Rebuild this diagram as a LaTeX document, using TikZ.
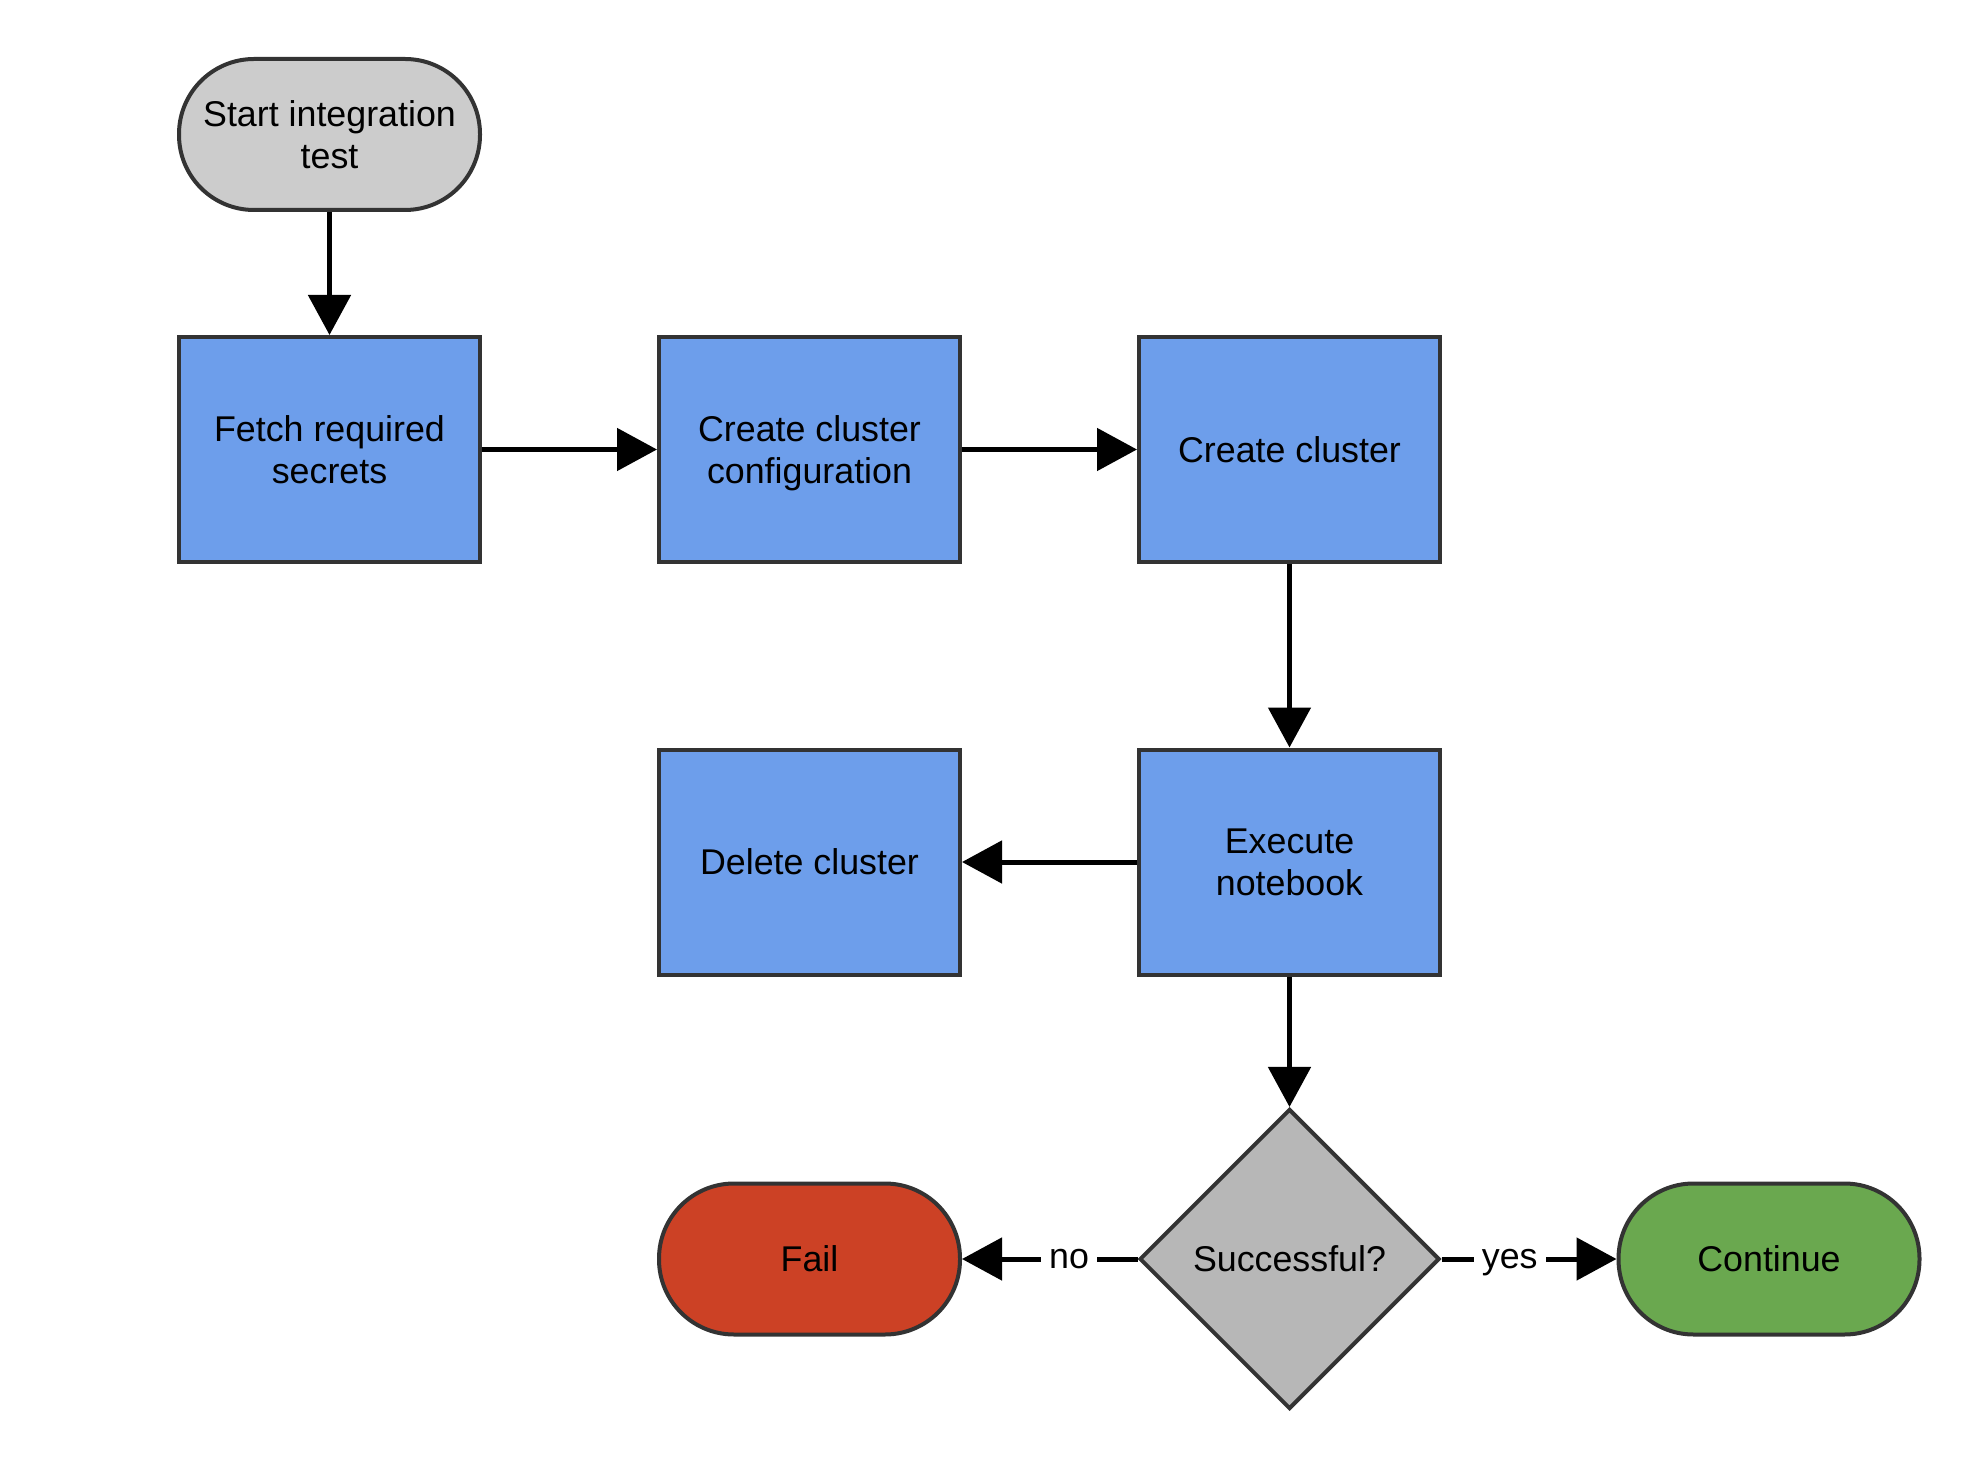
\documentclass[tikz,border=0pt]{standalone}
\usepackage{fontspec}
\setmainfont{Liberation Sans}
\usetikzlibrary{arrows.meta,shapes.geometric,positioning}

\definecolor{stepblue}{HTML}{6D9EEB}
\definecolor{startgray}{HTML}{CCCCCC}
\definecolor{decgray}{HTML}{B7B7B7}
\definecolor{failred}{HTML}{CC4125}
\definecolor{okgreen}{HTML}{6AA84F}
\definecolor{edge}{HTML}{333333}

\begin{document}
\begin{tikzpicture}[x=0.5pt, y=-0.5pt,
    box/.style={draw=edge, line width=2pt, minimum width=150.5pt, minimum height=112.5pt, align=center, text depth=0pt, font=\fontsize{17.9}{21}\selectfont, fill=stepblue},
    term/.style={draw=edge, line width=2pt, rounded corners=37.5pt, minimum width=150.5pt, minimum height=75.5pt, align=center, font=\fontsize{17.9}{21}\selectfont},
    dec/.style={draw=edge, line width=2pt, diamond, aspect=1, minimum width=150pt, minimum height=150pt, inner sep=0pt, align=center, font=\fontsize{17.9}{21}\selectfont, fill=decgray},
    arr/.style={-{Triangle[length=20pt, width=21pt]}, line width=2.5pt},
    lbl/.style={font=\fontsize{17.9}{21}\selectfont, fill=white, inner sep=4pt, text height=9.3pt, text depth=0pt, pos=0.39}
]
\useasboundingbox (0,0) rectangle (1980,1470);
\node[term, fill=startgray] (start) at (329.5,134.5) {Start integration\\test};
\node[box] (fetch) at (329.5,449.5) {Fetch required\\secrets};
\node[box] (config) at (809.5,449.5) {Create cluster\\configuration};
\node[box] (create) at (1289.5,449.5) {Create cluster};
\node[box] (exec) at (1289.5,862) {Execute\\notebook};
\node[box] (delete) at (809.5,862) {Delete cluster};
\node[dec] (succ) at (1289.5,1259) {Successful?};
\node[term, fill=failred] (fail) at (809.5,1259) {Fail};
\node[term, fill=okgreen] (cont) at (1769,1259) {Continue};

\draw[arr] (start) -- (fetch);
\draw[arr] (fetch) -- (config);
\draw[arr] (config) -- (create);
\draw[arr] (create) -- (exec);
\draw[arr] (exec) -- (delete);
\draw[arr] (exec) -- (succ);
\draw[arr] (succ) -- node[lbl] {no} (fail);
\draw[arr] (succ) -- node[lbl] {yes} (cont);
\end{tikzpicture}
\end{document}
